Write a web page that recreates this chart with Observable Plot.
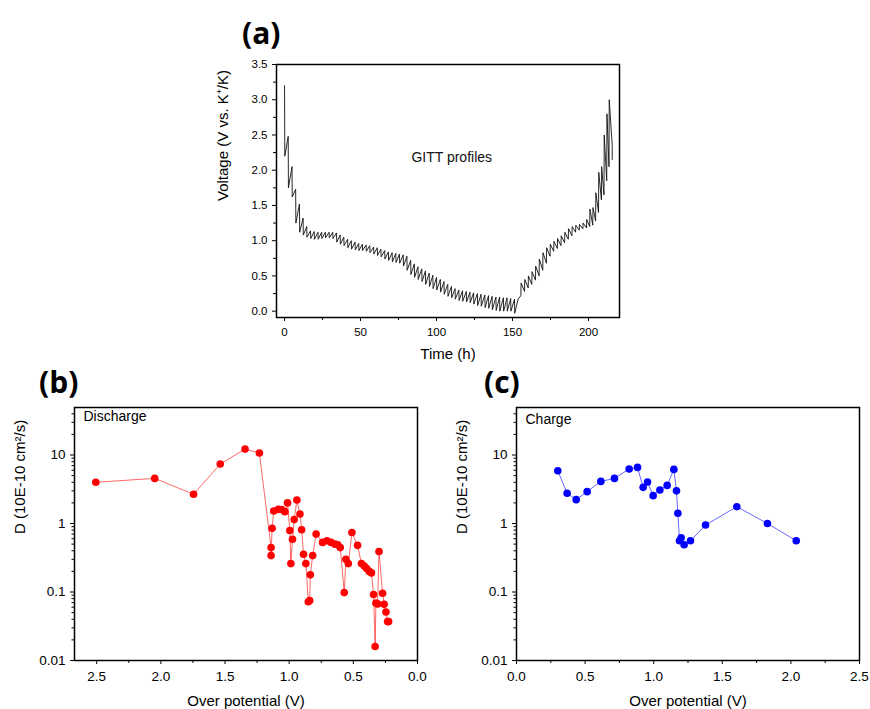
<!DOCTYPE html>
<html><head><meta charset="utf-8">
<script src="https://cdn.jsdelivr.net/npm/d3@7"></script>
<script src="https://cdn.jsdelivr.net/npm/@observablehq/plot@0.6"></script>
<style>
body{margin:0;background:#fff;}
#wrap{position:relative;width:870px;height:709px;overflow:hidden;background:#fff;}
.panel{position:absolute;}
.tag{position:absolute;font-family:"Open Sans","DejaVu Sans",sans-serif;font-weight:bold;font-size:30px;line-height:1;color:#000;}
</style></head><body><div id="wrap"></div>
<script>
// ---------- Panel (a): GITT profile ----------
const ocvStart = 3.2;
const dTime = [0,2.4,4.9,7.3,9.8,12.2,14.6,17.1,19.5,22.0,24.4,26.8,29.3,31.7,34.2,36.6,39.0,41.5,43.9,46.4,48.8,51.2,53.7,56.1,58.6,61.0,63.4,65.9,68.3,70.8,73.2,75.6,78.1,80.5,83.0,85.4,87.8,90.3,92.7,95.2,97.6,100.0,102.5,104.9,107.4,109.8,112.2,114.7,117.1,119.6,122.0,124.4,126.9,129.3,131.8,134.2,136.6,139.1,141.5,144.0,146.4,148.8,151.3];
const dLo = [2.2,1.75,1.62,1.25,1.12,1.08,1.05,1.03,1.02,1.02,1.03,1.04,1.04,1.03,0.98,0.95,0.93,0.90,0.88,0.87,0.86,0.86,0.85,0.83,0.81,0.79,0.77,0.74,0.72,0.70,0.69,0.68,0.64,0.58,0.52,0.48,0.45,0.42,0.38,0.35,0.32,0.30,0.27,0.24,0.21,0.19,0.17,0.15,0.14,0.13,0.12,0.10,0.08,0.07,0.05,0.04,0.02,0.01,0.0,0.0,0.0,0.0,-0.03];
const dHi = [2.48,2.05,1.73,1.52,1.32,1.20,1.14,1.13,1.12,1.12,1.12,1.12,1.12,1.11,1.08,1.05,1.02,1.00,0.98,0.96,0.95,0.94,0.93,0.91,0.90,0.88,0.86,0.84,0.83,0.82,0.81,0.80,0.78,0.72,0.67,0.63,0.60,0.57,0.54,0.51,0.48,0.45,0.42,0.38,0.35,0.32,0.30,0.29,0.28,0.27,0.26,0.25,0.24,0.23,0.22,0.21,0.20,0.20,0.19,0.19,0.18,0.17,0.17];
const dEndTime = 153.7;
const cStartV = 0.22;
const cTime = [155.5,157.9,160.3,162.7,165.1,167.5,169.9,172.3,174.7,177.1,179.5,181.9,184.3,186.7,189.1,191.5,193.9,196.3,198.7,200.8,202.8,204.7,206.6,208.5,210.2,212.0,213.5];
const cHi = [0.40,0.45,0.50,0.56,0.64,0.74,0.83,0.90,0.95,0.99,1.03,1.07,1.12,1.17,1.20,1.22,1.23,1.25,1.30,1.45,1.47,1.68,1.97,2.05,2.50,2.80,3.00];
const cLo = [0.28,0.33,0.38,0.44,0.50,0.58,0.68,0.78,0.85,0.89,0.93,0.97,1.02,1.07,1.12,1.15,1.17,1.18,1.20,1.22,1.28,1.40,1.58,1.65,1.85,2.05,2.35];
const cEnd = {t: 215.6, v: 2.15};
const pulseLen = 0.15;
const timeTicks = [0,50,100,150,200];
const timeMinor = [25,75,125,175];
const voltTicks = [0,0.5,1,1.5,2,2.5,3,3.5];
const voltMinor = [0.25,0.75,1.25,1.75,2.25,2.75,3.25];
const gittNote = [{t: 110, v: 2.18, text: "GITT profiles"}];

// ---------- Panels (b), (c): diffusion coefficients ----------
const disV = [2.507,2.048,1.745,1.537,1.344,1.232,1.141,1.141,1.133,1.12,1.084,1.059,1.033,1.013,0.995,0.987,0.974,0.961,0.94,0.916,0.903,0.888,0.87,0.851,0.84,0.835,0.817,0.79,0.74,0.705,0.674,0.643,0.622,0.602,0.571,0.558,0.539,0.511,0.467,0.437,0.415,0.396,0.376,0.359,0.342,0.33,0.324,0.311,0.30,0.272,0.26,0.246,0.233,0.225];
const disD = [4.0,4.56,2.67,7.4,12.2,10.7,0.445,0.34,0.85,1.52,1.61,1.6,1.49,2.0,0.79,0.26,0.59,1.14,2.2,1.38,0.81,0.356,0.26,0.072,0.075,0.178,0.34,0.70,0.53,0.56,0.53,0.50,0.49,0.445,0.098,0.30,0.26,0.74,0.48,0.26,0.24,0.22,0.20,0.19,0.092,0.016,0.069,0.067,0.39,0.096,0.066,0.051,0.037,0.037];
const chgV = [0.301,0.369,0.435,0.515,0.615,0.714,0.821,0.882,0.923,0.955,0.996,1.045,1.098,1.147,1.166,1.176,1.188,1.2,1.222,1.268,1.378,1.606,1.829,2.039];
const chgD = [5.9,2.76,2.23,2.92,4.12,4.56,6.24,6.6,3.37,4.04,2.55,3.09,3.6,6.17,3.0,1.41,0.56,0.62,0.49,0.56,0.95,1.76,1.0,0.56];
const potTicks = [0,0.5,1,1.5,2,2.5];
const potMinor = [0.25,0.75,1.25,1.75,2.25];
const dTicks = [0.01,0.1,1,10];
const dMinor = [0.02,0.03,0.04,0.05,0.06,0.07,0.08,0.09,0.2,0.3,0.4,0.5,0.6,0.7,0.8,0.9,2,3,4,5,6,7,8,9,20,30,40];

// ---------- build GITT path ----------
const gitt = [];
dTime.forEach((t, i) => {
  gitt.push({t, v: i === 0 ? ocvStart : dHi[i - 1]});
  gitt.push({t: t + pulseLen, v: dLo[i]});
});
gitt.push({t: dEndTime, v: dHi[dHi.length - 1]});
cTime.forEach((t, i) => {
  gitt.push({t, v: i === 0 ? cStartV : cLo[i - 1]});
  gitt.push({t: t + pulseLen, v: cHi[i]});
});
gitt.push({t: cEnd.t, v: cLo[cLo.length - 1]});
gitt.push(cEnd);

const FONT = "'Liberation Sans', Arial, sans-serif";
const wrap = document.getElementById("wrap");
function place(node, left, top) {
  node.classList.add("panel");
  node.style.left = left + "px";
  node.style.top = top + "px";
  wrap.appendChild(node);
}
function tag(txt, left, top) {
  const d = document.createElement("div");
  d.className = "tag"; d.textContent = txt;
  d.style.left = left + "px"; d.style.top = top + "px";
  wrap.appendChild(d);
}

const plotA = Plot.plot({
  width: 430, height: 330,
  marginTop: 24, marginLeft: 76, marginRight: 11, marginBottom: 53,
  style: {fontFamily: FONT, fontSize: "11.5px", color: "#000", background: "transparent", overflow: "visible"},
  x: {domain: [-5.3, 220.4]},
  y: {domain: [-0.09, 3.5]},
  marks: [
    Plot.axisX({ticks: timeTicks, tickSize: 4, tickPadding: 6, tickFormat: d => String(d), label: null}),
    Plot.axisX({ticks: timeMinor, tickSize: 3, tickFormat: () => "", label: null}),
    Plot.axisY({ticks: voltTicks, tickSize: 4, tickPadding: 5, tickFormat: d3.format(".1f"), label: null}),
    Plot.axisY({ticks: voltMinor, tickSize: 3, tickFormat: () => "", label: null}),
    Plot.line(gitt, {x: "t", y: "v", stroke: "#111", strokeWidth: 0.9}),
    Plot.frame({stroke: "#000", strokeWidth: 1.5}),
    Plot.text(gittNote, {x: "t", y: "v", text: "text", fontSize: 14, fill: "#111"}),
    Plot.text(["Time (h)"], {frameAnchor: "bottom", dy: 41, fontSize: 15}),
    Plot.text(["Voltage (V vs. K⁺/K)"], {frameAnchor: "left", dx: -53, dy: 10, rotate: -90, fontSize: 15})
  ]
});
place(plotA, 200, 40);

function dPlot(xs, ys, color, xDomain, note, noteDy) {
  const data = xs.map((x, i) => ({x, y: ys[i]}));
  return Plot.plot({
    width: 430, height: 314,
    marginTop: 12, marginLeft: 74, marginRight: 13, marginBottom: 49,
    style: {fontFamily: FONT, fontSize: "13.5px", color: "#000", background: "transparent", overflow: "visible"},
    x: {domain: xDomain},
    y: {type: "log", domain: [0.01, 49.4]},
    marks: [
      Plot.axisX({ticks: potTicks, tickSize: 4, tickPadding: 7, tickFormat: d3.format(".1f"), label: null}),
      Plot.axisX({ticks: potMinor, tickSize: 3, tickFormat: () => "", label: null}),
      Plot.axisY({ticks: dTicks, tickSize: 4, tickPadding: 5, tickFormat: d => String(d), label: null}),
      Plot.axisY({ticks: dMinor, tickSize: 2.5, tickFormat: () => "", label: null}),
      Plot.line(data, {x: "x", y: "y", stroke: color, strokeWidth: 0.8, strokeOpacity: 0.75}),
      Plot.dot(data, {x: "x", y: "y", r: 3.8, fill: color, stroke: "none"}),
      Plot.frame({stroke: "#000", strokeWidth: 1.5}),
      Plot.text([note], {frameAnchor: "top-left", textAnchor: "start", lineAnchor: "top", dx: 9, dy: noteDy, fontSize: 14}),
      Plot.text(["Over potential (V)"], {frameAnchor: "bottom", dy: 45, fontSize: 15}),
      Plot.text(["D (10E-10 cm²/s)"], {frameAnchor: "left", dx: -54, rotate: -90, fontSize: 15})
    ]
  });
}
const plotB = dPlot(disV, disD, "#ff0000", [2.673, 0], "Discharge", 4);
place(plotB, 0, 395);
const plotC = dPlot(chgV, chgD, "#0000ff", [0, 2.5], "Charge", 7);
place(plotC, 442, 395);

tag("(a)", 242, 18);
tag("(b)", 39, 367);
tag("(c)", 484, 367);
</script>
</body></html>
